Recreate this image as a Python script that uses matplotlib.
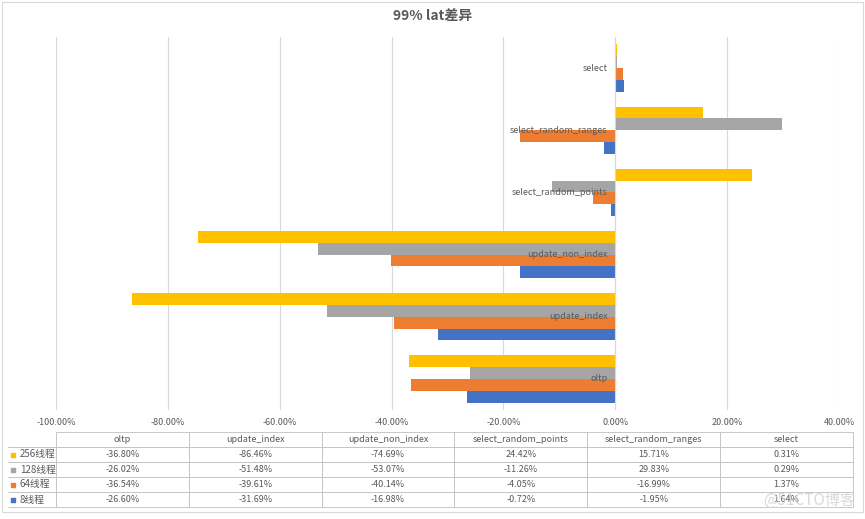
import matplotlib
matplotlib.use('Agg')
import matplotlib.pyplot as plt
import numpy as np
from matplotlib.ticker import FuncFormatter
from matplotlib.transforms import offset_copy

plt.rcParams['font.family'] = ['Noto Sans CJK SC', 'DejaVu Sans']

# 数据：类别（自下而上）与各线程数的 99% lat 差异（%）
categories = ["oltp", "update_index", "update_non_index",
              "select_random_points", "select_random_ranges", "select"]
series_names = ["256线程", "128线程", "64线程", "8线程"]
t256 = [-36.80, -86.46, -74.69, 24.42, 15.71, 0.31]
t128 = [-26.02, -51.48, -53.07, -11.26, 29.83, 0.29]
t64 = [-36.54, -39.61, -40.14, -4.05, -16.99, 1.37]
t8 = [-26.60, -31.69, -16.98, -0.72, -1.95, 1.64]
xticks = [-100, -80, -60, -40, -20, 0, 20, 40]

colors = {"256线程": "#FFC000", "128线程": "#A5A5A5",
          "64线程": "#ED7D31", "8线程": "#4472C4"}
values = {"256线程": t256, "128线程": t128, "64线程": t64, "8线程": t8}
txt_c = "#595959"
line_c = "#D9D9D9"

W, H = 865, 519
fig = plt.figure(figsize=(W / 100, H / 100), dpi=100)
ax = fig.add_axes([56 / W, 1 - 410 / H, (839 - 56) / W, (410 - 37) / H])

y = np.arange(len(categories))
h = 0.19
offsets = {"8线程": -1.5 * h, "64线程": -0.5 * h, "128线程": 0.5 * h, "256线程": 1.5 * h}
for name in series_names:
    ax.barh(y + offsets[name], values[name], height=h, color=colors[name], zorder=2)

ax.set_xlim(-100, 40)
ax.set_ylim(-0.5, len(categories) - 0.5)
ax.set_xticks(xticks)
ax.xaxis.set_major_formatter(FuncFormatter(lambda v, p: f"{v:.2f}%"))
ax.grid(axis='x', color=line_c, linewidth=0.8, zorder=0)
ax.set_axisbelow(True)
for s in ax.spines.values():
    s.set_visible(False)
ax.set_yticks([])
ax.tick_params(axis='x', length=0, pad=6, labelsize=6.5, labelcolor=txt_c)

# 类别轴位于 0 处，标签贴着轴线、压在条形上
ax.axvline(0, color=line_c, linewidth=0.8, zorder=3)
lab_tr = offset_copy(ax.transData, fig=fig, x=-5.5, y=0, units='points')
for yi, cat in zip(y, categories):
    ax.text(0, yi, cat, transform=lab_tr, ha='right', va='center',
            fontsize=6.5, color=txt_c, zorder=5)

fig.text(0.5, 1 - 17 / H, "99% lat差异", ha='center', va='center',
         fontsize=10, fontweight='bold', color=txt_c)

# 数据表
tax = fig.add_axes([8 / W, 1 - 507 / H, (853 - 8) / W, (507 - 432) / H])
tax.axis('off')
cell_text = [[""] + [f"{v:.2f}%" for v in values[n]] for n in series_names]
col_w = [48 / 845] + [133 / 845] * len(categories)
tbl = tax.table(cellText=cell_text, colLabels=[""] + categories,
                colWidths=col_w, bbox=[0, 0, 1, 1], cellLoc='center')
tbl.auto_set_font_size(False)
tbl.set_fontsize(6.5)
for (r, c), cell in tbl.get_celld().items():
    cell.set_edgecolor("#BFBFBF")
    cell.set_linewidth(0.6)
    cell.get_text().set_color(txt_c)
    if r == 0 and c == 0:
        cell.visible_edges = "B"
    elif c == 0:
        cell.visible_edges = "BTR"

nrow = len(series_names) + 1
for i, name in enumerate(series_names):
    yc = 1 - (i + 1.5) / nrow
    tax.scatter([0.006], [yc], marker='s', s=10, color=colors[name],
                transform=tax.transAxes, clip_on=False)
    tax.text(0.014, yc, name, ha='left', va='center', fontsize=7,
             color=txt_c, transform=tax.transAxes)

# 外边框
fig.patches.append(plt.Rectangle((2 / W, 7 / H), (W - 4) / W, (H - 9) / H,
                                 transform=fig.transFigure, fill=False,
                                 edgecolor="#D9D9D9", linewidth=0.8))

fig.text(1 - 10 / W, 1 - 500 / H, "@51CTO博客", ha='right', va='center',
         fontsize=11, color="#D0D0D0", alpha=0.8)

fig.savefig("out.png", dpi=100)
